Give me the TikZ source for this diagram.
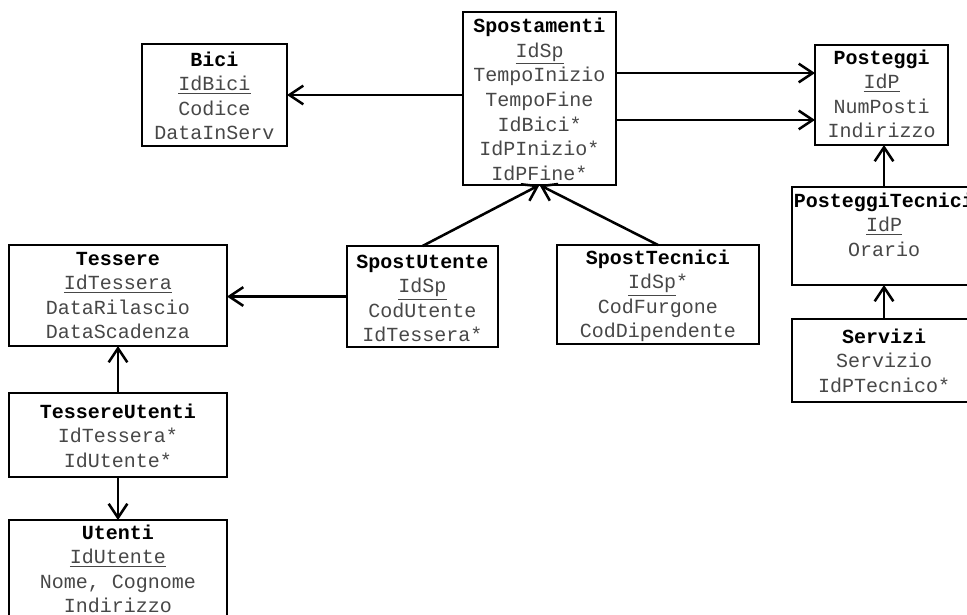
\documentclass[tikz,border=0pt]{standalone}
\usepackage{fontspec}
\setmonofont{Liberation Mono}
\usetikzlibrary{arrows.meta,calc}
\definecolor{fieldgray}{HTML}{474747}
\tikzset{
  tbl/.style={draw=black, line width=1.9pt, anchor=north west, inner sep=0pt, outer sep=0pt},
  fields/.style={anchor=north, inner sep=0pt, align=center, text=fieldgray,
    font=\ttfamily\fontsize{15}{18.4}\selectfont},
  link/.style={line width=1.9pt, -{Straight Barb[length=10.5pt,width=14pt,line width=1.9pt]}},
}
\newcommand{\ttl}[1]{\strut\textcolor{black}{\textbf{#1}}}
\begin{document}
\begin{tikzpicture}[x=0.75pt,y=-0.75pt]
\useasboundingbox (0,0) rectangle (967,614);
\clip (0,0) rectangle (967,614);
% boxes
\node[tbl, minimum width=108.75pt, minimum height=76.5pt] (bici) at (142,44) {};
\node[tbl, minimum width=114.75pt, minimum height=129.75pt] (spo) at (463,12) {};
\node[tbl, minimum width=99.75pt, minimum height=75pt] (pos) at (815,45) {};
\node[tbl, minimum width=138pt, minimum height=73.5pt] (pt) at (792,187) {};
\node[tbl, minimum width=138pt, minimum height=62.25pt] (serv) at (792,319) {};
\node[tbl, minimum width=163.5pt, minimum height=75.75pt] (tes) at (9,245) {};
\node[tbl, minimum width=113.25pt, minimum height=75.75pt] (spu) at (347,246) {};
\node[tbl, minimum width=151.5pt, minimum height=74.25pt] (spt) at (557,245) {};
\node[tbl, minimum width=163.5pt, minimum height=63pt] (teu) at (9,393) {};
\node[tbl, minimum width=163.5pt, minimum height=82.5pt] (ute) at (9,520) {};
% contents
\node[fields] (bici-t) at ([yshift=-3.6pt]bici.north) {\ttl{Bici}\\\underline{IdBici}\\Codice\\DataInServ};
\node[fields] (spo-t) at ([yshift=-2.6pt]spo.north) {\ttl{Spostamenti}\\\underline{IdSp}\\TempoInizio\\TempoFine\\IdBici*\\IdPInizio*\\IdPFine*};
\node[fields] (pos-t) at ([yshift=-1.4pt]pos.north) {\ttl{Posteggi}\\\underline{IdP}\\NumPosti\\Indirizzo};
\node[fields] (pt-t) at ([yshift=-2.1pt]pt.north) {\ttl{PosteggiTecnici}\\\underline{IdP}\\Orario};
\node[fields] (serv-t) at ([yshift=-5.1pt]serv.north) {\ttl{Servizi}\\Servizio\\IdPTecnico*};
\node[fields] (tes-t) at ([yshift=-2.1pt]tes.north) {\ttl{Tessere}\\\underline{IdTessera}\\DataRilascio\\DataScadenza};
\node[fields] (spu-t) at ([yshift=-3.6pt]spu.north) {\ttl{SpostUtente}\\\underline{IdSp}\\CodUtente\\IdTessera*};
\node[fields] (spt-t) at ([yshift=-1.4pt]spt.north) {\ttl{SpostTecnici}\\\underline{IdSp}*\\CodFurgone\\CodDipendente};
\node[fields] (teu-t) at ([yshift=-5.9pt]teu.north) {\ttl{TessereUtenti}\\IdTessera*\\IdUtente*};
\node[fields] (ute-t) at ([yshift=-1.4pt]ute.north) {\ttl{Utenti}\\\underline{IdUtente}\\Nome, Cognome\\Indirizzo};
% connectors
\draw[link] (spo.west |- bici.east) -- (bici.east);
\draw[link] ([yshift=19.1pt]spo.east) -- ([yshift=19.1pt]spo.east -| pos.west);
\draw[link] ([yshift=-16.1pt]spo.east) -- ([yshift=-16.1pt]spo.east -| pos.west);
\draw[link] (spu.north) -- (spo.south);
\draw[link] (spt.north) -- (spo.south);
\draw[link] (spu.west) -- (spu.west -| tes.east);
\draw[link] (teu.north) -- (tes.south);
\draw[link] (teu.south) -- (ute.north);
\draw[link] (pt.north) -- (pt.north |- pos.south);
\draw[link] (serv.north) -- (serv.north |- pt.south);
\end{tikzpicture}
\end{document}
